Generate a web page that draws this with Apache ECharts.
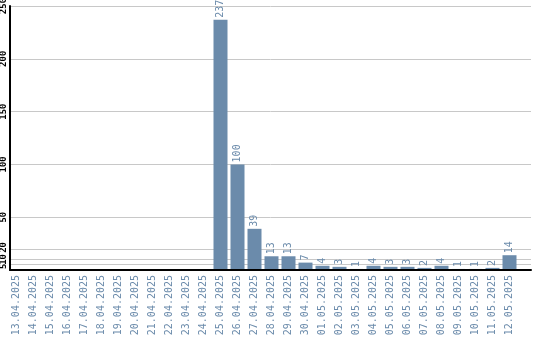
<!DOCTYPE html>
<html>
<head>
<meta charset="utf-8">
<script src="https://cdn.jsdelivr.net/npm/echarts@6/dist/echarts.min.js"></script>
<style>html,body{margin:0;padding:0;background:#fff}#c{width:540px;height:340px}</style>
</head>
<body>
<div id="c"></div>
<script>
var dates = ["13.04.2025","14.04.2025","15.04.2025","16.04.2025","17.04.2025","18.04.2025","19.04.2025","20.04.2025","21.04.2025","22.04.2025","23.04.2025","24.04.2025","25.04.2025","26.04.2025","27.04.2025","28.04.2025","29.04.2025","30.04.2025","01.05.2025","02.05.2025","03.05.2025","04.05.2025","05.05.2025","06.05.2025","07.05.2025","08.05.2025","09.05.2025","10.05.2025","11.05.2025","12.05.2025"];
var counts = [0,0,0,0,0,0,0,0,0,0,0,0,237,100,39,13,13,7,4,3,1,4,3,3,2,4,1,1,2,14];
var yTicks = [5,10,20,50,100,150,200,250];
var yTicksMain = [50,100,150,200,250];
var yTicks5 = [5];
var yTicks10 = [10];
var yTicks20 = [20];
var yMax = 250;

var blue = '#6b8bab';
var mono = 'DejaVu Sans Mono';
function yLabel(vals, pad) {
  return {customValues: vals, rotate: 90, margin: 2, color: '#000', fontFamily: mono, fontSize: 9, fontWeight: 'bold',
          hideOverlap: false, showMinLabel: true, showMaxLabel: true, padding: pad || 0};
}
function extraY(vals, pad) {
  return {gridIndex: 0, type: 'value', min: 0, max: yMax, position: 'left', offset: 0,
          axisLine: {show: false}, axisTick: {show: false, customValues: vals},
          axisLabel: yLabel(vals, pad), splitLine: {show: false}};
}
var chart = echarts.init(document.getElementById('c'), null, {renderer: 'canvas'});
chart.setOption({
  animation: false,
  backgroundColor: '#ffffff',
  grid: [
    {left: 10, top: 6, width: 521, height: 264, outerBoundsMode: 'none', containLabel: false},
    {left: 8, top: 6, width: 510, height: 264, outerBoundsMode: 'none', containLabel: false}
  ],
  xAxis: [
    {gridIndex: 0, type: 'value', min: 0, max: 1, axisLine: {show: true, onZero: false, lineStyle: {color: '#000', width: 2}},
     axisTick: {show: false}, axisLabel: {show: false}, splitLine: {show: false}, z: 12},
    {gridIndex: 1, type: 'category', data: dates, boundaryGap: true,
     axisLine: {show: false}, axisTick: {show: false}, splitLine: {show: false},
     axisLabel: {rotate: 90, interval: 0, margin: 5, color: blue, fontFamily: mono, fontSize: 10}}
  ],
  yAxis: [
    {gridIndex: 0, type: 'value', min: 0, max: yMax, position: 'left', offset: 0,
     axisLine: {show: true, lineStyle: {color: '#000', width: 2}},
     axisTick: {show: false, customValues: yTicksMain},
     axisLabel: yLabel(yTicksMain),
     splitLine: {show: false}, z: 12},
    {gridIndex: 1, type: 'value', min: 0, max: yMax, show: false, splitLine: {show: false}},
    extraY(yTicks5, [0, 3, 0, 0]),
    extraY(yTicks10),
    extraY(yTicks20, [0, 0, 0, 3])
  ],
  series: [{
    type: 'line',
    xAxisIndex: 0, yAxisIndex: 0,
    data: [],
    silent: true,
    z: 0,
    markLine: {
      silent: true, symbol: 'none', label: {show: false}, z: 0,
      lineStyle: {color: '#c8c8c8', width: 1, type: 'solid'},
      emphasis: {disabled: true},
      data: yTicks.map(function(v){ return {yAxis: v}; })
    }
  }, {
    type: 'bar',
    xAxisIndex: 1, yAxisIndex: 1,
    data: counts,
    barWidth: 14,
    itemStyle: {color: blue},
    z: 10,
    label: {
      show: true, position: 'top', rotate: 90, align: 'left', verticalAlign: 'middle', distance: 2,
      color: blue, fontFamily: mono, fontSize: 10,
      formatter: function(p){ return p.value ? String(p.value) : ''; }
    }
  }]
});
</script>
</body>
</html>
